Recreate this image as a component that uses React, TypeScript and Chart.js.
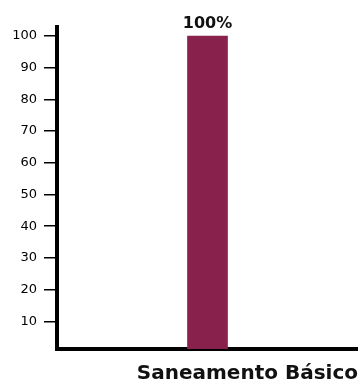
import React, { useEffect, useRef } from "react";
import { Chart, registerables } from "chart.js";

Chart.register(...registerables);

const categories = ["Saneamento Básico"];
const values = [100];
const yTicks = [10, 20, 30, 40, 50, 60, 70, 80, 90, 100];
const barColor = "#88214C";
const FONT = "'DejaVu Sans', sans-serif";

const valueLabelPlugin = {
  id: "valueLabel",
  afterDatasetsDraw(chart: any) {
    const ctx = chart.ctx;
    const meta = chart.getDatasetMeta(0);
    ctx.save();
    ctx.font = `bold 16px ${FONT}`;
    ctx.fillStyle = "#111";
    ctx.textAlign = "center";
    ctx.textBaseline = "alphabetic";
    meta.data.forEach((bar: any, i: number) => {
      ctx.fillText(values[i] + "%", bar.x, bar.y - 8);
    });
    ctx.restore();
  },
};

export default function App() {
  const ref = useRef<HTMLCanvasElement>(null);
  useEffect(() => {
    const chart = new Chart(ref.current!, {
      type: "bar",
      data: {
        labels: categories,
        datasets: [
          {
            data: values,
            backgroundColor: barColor,
            barThickness: 40,
          },
        ],
      },
      options: {
        animation: false,
        responsive: false,
        layout: { padding: { top: 27, right: 0, left: 0, bottom: 0 } },
        plugins: {
          legend: { display: false },
          tooltip: { enabled: false },
        },
        scales: {
          x: {
            grid: { display: false },
            border: { display: true, color: "#000", width: 4 },
            ticks: { display: false },
            title: {
              display: true,
              text: categories[0],
              align: "end",
              color: "#111",
              font: { family: FONT, size: 20, weight: "bold" },
              padding: { top: 13, bottom: -3 },
            },
            afterFit(scale: any) {
              scale.height = 34;
            },
          },
          y: {
            min: 1.25,
            max: 102.85,
            afterBuildTicks(scale: any) {
              scale.ticks = yTicks.map((v) => ({ value: v }));
            },
            grid: {
              drawOnChartArea: false,
              drawTicks: true,
              tickLength: 13,
              color: "#000",
              lineWidth: 1.5,
            },
            border: { display: true, color: "#000", width: 4 },
            ticks: {
              color: "#000",
              padding: 7,
              font: { family: FONT, size: 13 },
            },
            afterFit(scale: any) {
              scale.width = 57;
            },
          },
        },
      },
      plugins: [valueLabelPlugin],
    });
    return () => chart.destroy();
  }, []);
  return (
    <div style={{ position: "fixed", left: 0, top: 0, width: 358, height: 383, background: "#fff" }}>
      <canvas ref={ref} width={358} height={383} />
    </div>
  );
}
